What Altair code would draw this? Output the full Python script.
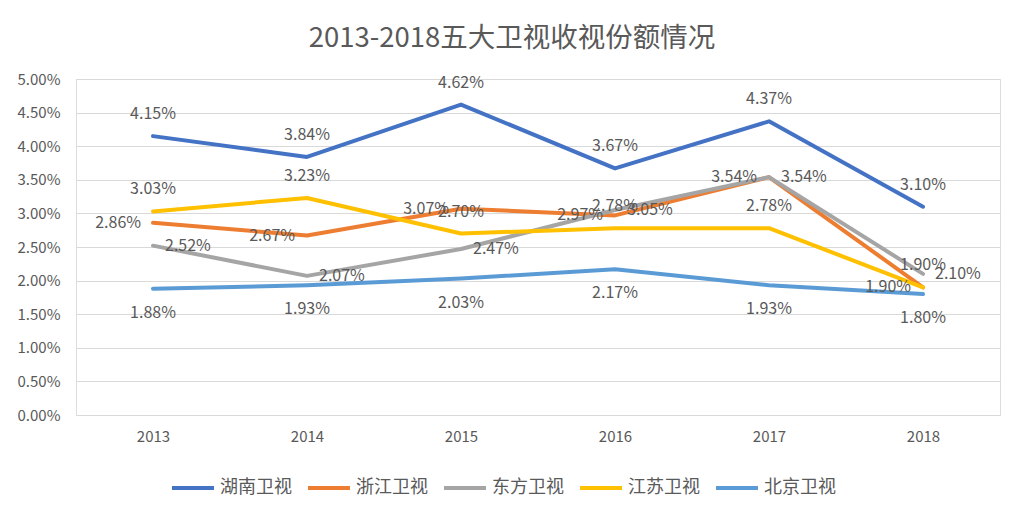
import altair as alt
import pandas as pd

years = ["2013", "2014", "2015", "2016", "2017", "2018"]
channels = ["湖南卫视", "浙江卫视", "东方卫视", "江苏卫视", "北京卫视"]
colors = ["#4472C4", "#ED7D31", "#A5A5A5", "#FFC000", "#5B9BD5"]

# share in percent
hunan   = [4.15, 3.84, 4.62, 3.67, 4.37, 3.10]
zhejiang = [2.86, 2.67, 3.07, 2.97, 3.54, 1.90]
dongfang = [2.52, 2.07, 2.47, 3.05, 3.54, 2.10]
jiangsu = [3.03, 3.23, 2.70, 2.78, 2.78, 1.90]
beijing = [1.88, 1.93, 2.03, 2.17, 1.93, 1.80]

series = [hunan, zhejiang, dongfang, jiangsu, beijing]
rows = []
for name, vals in zip(channels, series):
    for y, v in zip(years, vals):
        rows.append({"year": y, "channel": name, "share": v / 100})
df = pd.DataFrame(rows)

FONT = "Noto Sans CJK SC"
TXT = "#595959"

x = alt.X("year:O", title=None, sort=years,
          scale=alt.Scale(paddingInner=0, paddingOuter=0.5),
          axis=alt.Axis(labelAngle=0, ticks=False, domain=False, labelPadding=14,
                        labelFontSize=15, labelColor=TXT, labelFont=FONT))
y = alt.Y("share:Q", title=None, scale=alt.Scale(domain=[0, 0.05]),
          axis=alt.Axis(format=".2%", values=[i / 200 for i in range(11)],
                        labelOverlap=False, ticks=False, domain=False, labelPadding=16,
                        labelFontSize=15, labelColor=TXT, labelFont=FONT,
                        gridColor="#D9D9D9", gridWidth=1))
color = alt.Color("channel:N", sort=channels, title=None,
                  scale=alt.Scale(domain=channels, range=colors),
                  legend=alt.Legend(orient="none", direction="horizontal",
                                    legendX=94, legendY=386,
                                    symbolType="stroke", symbolStrokeWidth=4,
                                    symbolSize=1764, labelOffset=4, columnPadding=8,
                                    labelFontSize=18, labelColor=TXT, labelFont=FONT))

base = alt.Chart(df)
lines = base.mark_line(strokeWidth=4, strokeCap="round", strokeJoin="round").encode(
    x=x, y=y, color=color)

def labels(name, **kw):
    return base.transform_filter(alt.datum.channel == name).mark_text(
        font=FONT, fontSize=16, color=TXT, **kw).encode(
        x=x, y=y, text=alt.Text("share:Q", format=".2%"))

text = (labels("湖南卫视", dy=-22)
        + labels("浙江卫视", align="right", dx=-12)
        + labels("东方卫视", align="left", dx=12)
        + labels("江苏卫视", dy=-22)
        + labels("北京卫视", dy=24))

chart = (lines + text).properties(
    width=924, height=336,
    autosize=alt.AutoSizeParams(type="none"),
    padding={"left": 68, "top": 71, "right": 16, "bottom": 90},
    title=alt.Title("2013-2018五大卫视收视份额情况", font=FONT, fontSize=27.5,
                    fontWeight="normal", color=TXT, offset=20, anchor="middle", dx=-26),
).configure_view(stroke=None).configure(background="white")

chart.save("out.html", embed_options={"renderer": "svg", "actions": False})
